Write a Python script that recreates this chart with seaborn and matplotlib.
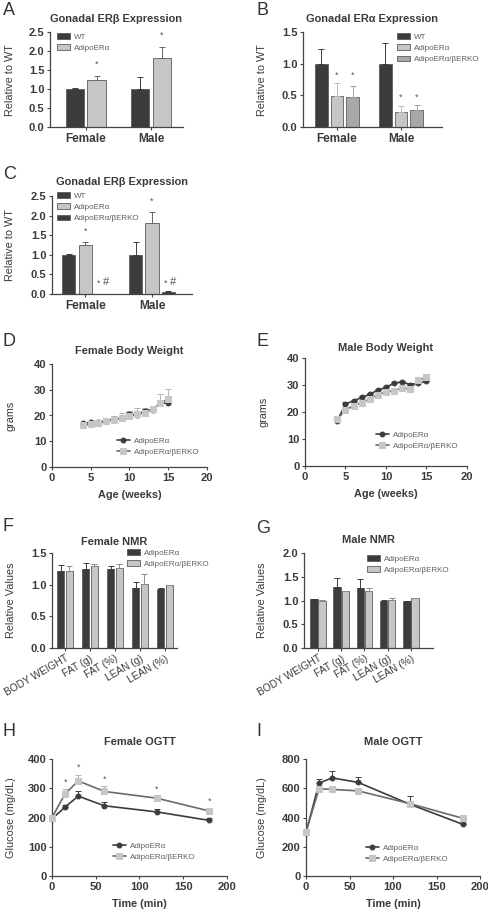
import numpy as np
import pandas as pd
import matplotlib.pyplot as plt
import seaborn as sns

W, H = 489, 913

# --- data ---
sexes = ["Female", "Male"]
groups = ["WT", "AdipoERα", "AdipoERα/βERKO"]
pair = ["AdipoERα", "AdipoERα/βERKO"]

# A / C: gonadal ER-beta
erb_wt = [1.0, 1.0]
erb_wt_err = [0.02, 0.32]
erb_adipo = [1.24, 1.82]
erb_adipo_err = [0.09, 0.28]
erb_ko = [0.01, 0.06]
erb_ko_err = [0.0, 0.02]

# B: gonadal ER-alpha
era_wt = [1.0, 1.0]
era_wt_err = [0.23, 0.32]
era_adipo = [0.49, 0.23]
era_adipo_err = [0.21, 0.10]
era_ko = [0.47, 0.27]
era_ko_err = [0.18, 0.08]

# D / E: body weight
weeks = [4, 5, 6, 7, 8, 9, 10, 11, 12, 13, 14, 15]
fbw_adipo = [16.9, 17.4, 17.5, 17.9, 18.4, 19.0, 20.4, 20.3, 21.7, 22.3, 24.7, 25.0]
fbw_adipo_err = [0.4, 0.4, 0.4, 0.5, 0.5, 0.6, 1.1, 0.7, 0.9, 0.6, 1.0, 0.8]
fbw_ko = [16.2, 16.6, 16.9, 17.8, 18.4, 19.1, 19.7, 20.5, 21.0, 22.6, 24.7, 26.6]
fbw_ko_err = [0.6, 0.6, 0.8, 1.4, 1.3, 2.0, 2.0, 2.5, 1.8, 1.2, 3.5, 3.6]
mbw_adipo = [16.8, 23.0, 24.1, 25.4, 26.6, 28.1, 29.1, 30.7, 31.1, 30.1, 30.7, 31.3]
mbw_adipo_err = [0.5, 0.8, 0.5, 0.5, 0.5, 0.5, 0.5, 0.5, 0.4, 0.5, 0.5, 0.6]
mbw_ko = [17.3, 20.8, 22.3, 23.5, 24.9, 26.4, 27.4, 27.9, 28.9, 28.5, 31.7, 32.8]
mbw_ko_err = [0.6, 0.5, 0.5, 0.5, 0.5, 0.5, 0.5, 0.5, 0.5, 0.5, 0.9, 0.8]

# F / G: NMR
nmr_cats = ["BODY WEIGHT", "FAT (g)", "FAT (%)", "LEAN (g)", "LEAN (%)"]
fnmr_adipo = [1.22, 1.25, 1.24, 0.95, 0.93]
fnmr_adipo_err = [0.09, 0.09, 0.06, 0.09, 0.02]
fnmr_ko = [1.22, 1.29, 1.26, 1.01, 0.99]
fnmr_ko_err = [0.07, 0.03, 0.06, 0.16, 0.01]
mnmr_adipo = [1.03, 1.28, 1.26, 1.00, 0.98]
mnmr_adipo_err = [0.01, 0.20, 0.19, 0.01, 0.02]
mnmr_ko = [0.99, 1.19, 1.19, 1.02, 1.05]
mnmr_ko_err = [0.03, 0.01, 0.07, 0.04, 0.0]

# H / I: OGTT
times = [0, 15, 30, 60, 120, 180]
fogtt_adipo = [195, 236, 273, 240, 219, 190]
fogtt_adipo_err = [6, 8, 16, 12, 10, 9]
fogtt_ko = [200, 281, 325, 289, 266, 222]
fogtt_ko_err = [5, 17, 22, 18, 8, 10]
mogtt_adipo = [296, 635, 671, 640, 489, 354]
mogtt_adipo_err = [8, 28, 46, 40, 58, 10]
mogtt_ko = [303, 596, 592, 582, 494, 395]
mogtt_ko_err = [10, 10, 18, 12, 10, 12]

DARK = "#3c3c3c"
LIGHT = "#c6c6c6"
MID = "#a8a8a8"
TXT = "#3a3a3a"

sns.set_style("ticks")
plt.rcParams["font.family"] = ["Liberation Sans", "DejaVu Sans"]

fig = plt.figure(figsize=(W / 100, H / 100), dpi=100)


def box(l, t, r, b):
    return fig.add_axes([l / W, 1 - b / H, (r - l) / W, (b - t) / H])


def style(ax, ylab_x, l, r, xsize=8):
    sns.despine(ax=ax)
    for s in ["left", "bottom"]:
        ax.spines[s].set_color("#444444")
        ax.spines[s].set_linewidth(0.9)
    ax.tick_params(length=2.5, width=0.8, colors="#444444", labelcolor=TXT,
                   labelsize=8, pad=1.5)
    ax.tick_params(axis="x", labelsize=xsize)
    for t in ax.get_xticklabels() + ax.get_yticklabels():
        t.set_fontweight("bold")
    ax.yaxis.label.set_size(7.8)
    ax.yaxis.label.set_color(TXT)
    ax.xaxis.label.set_size(7.8)
    ax.xaxis.label.set_color(TXT)
    ax.xaxis.label.set_fontweight("bold")
    ax.xaxis.labelpad = 5
    ax.yaxis.set_label_coords((ylab_x + 4 - l) / (r - l), 0.5)


def legend(ax, x, y, **kw):
    leg = ax.legend(loc="upper left", bbox_to_anchor=(x / W, 1 - y / H),
                    bbox_transform=fig.transFigure, frameon=False, fontsize=5.8,
                    borderpad=0, borderaxespad=0, labelspacing=0.45,
                    handletextpad=0.5, **kw)
    for t in leg.get_texts():
        t.set_color("#606060")
    return leg


def bars(ax, cats, names, vals, errs, colors, ecolors, width, gap):
    df = pd.DataFrame({
        "cat": [c for _ in names for c in cats],
        "grp": [n for n in names for _ in cats],
        "val": [v for vs in vals for v in vs],
    })
    sns.barplot(data=df, x="cat", y="val", hue="grp", order=cats, hue_order=names,
                palette=colors, width=width, gap=gap, edgecolor="#5c5c5c",
                linewidth=0.6, errorbar=None, saturation=1, ax=ax)
    centers = [[p.get_x() + p.get_width() / 2 for p in c] for c in ax.containers]
    for xs, v, e, ec in zip(centers, vals, errs, ecolors):
        ax.errorbar(xs, v, yerr=[np.zeros(len(e)), e], fmt="none", ecolor=ec,
                    elinewidth=0.7, capsize=2.3, capthick=0.7, zorder=1)
    ax.set_xlabel("")
    return centers


def lines(ax, x, names, vals, errs):
    specs = [
        dict(color=DARK, marker="o", markerfacecolor=DARK, markeredgecolor=DARK, ms=3.5),
        dict(color="#6a6a6a", marker="s", markerfacecolor=LIGHT, markeredgecolor=LIGHT, ms=4),
    ]
    ecs = [DARK, "#b4b4b4"]
    for n, v, e, sp, ec in zip(names, vals, errs, specs, ecs):
        sns.lineplot(x=x, y=v, ax=ax, label=n, linewidth=1.2, clip_on=False,
                     zorder=3, **sp)
        ax.errorbar(x, v, yerr=[np.zeros(len(e)), e], fmt="none", ecolor=ec,
                    elinewidth=0.7, capsize=2.3, capthick=0.7, zorder=2, clip_on=False)


def star(ax, x, y, s="*", size=6.5, ha="center"):
    ax.text(x, y, s, ha=ha, va="bottom", fontsize=size, color="#555555")


def title(ax, text, pad):
    ax.set_title(text, fontsize=7.9, fontweight="bold", color=TXT, pad=pad)


def letter(x, y, s):
    fig.text(x / W, 1 - y / H, s, fontsize=13, color="#333333", va="top", ha="left")


# ---------- A ----------
axA = box(50, 32, 183, 127)
cA = bars(axA, sexes, groups[:2], [erb_wt, erb_adipo], [erb_wt_err, erb_adipo_err],
          [DARK, LIGHT], [DARK, "#666666"], 0.66, 0.15)
for i in range(2):
    star(axA, cA[1][i], erb_adipo[i] + erb_adipo_err[i] + 0.2)
axA.set_ylim(0, 2.5)
axA.set_yticks([0, 0.5, 1.0, 1.5, 2.0, 2.5])
axA.set_xlim(-0.55, 1.49)
axA.set_ylabel("Relative to WT")
title(axA, "Gonadal ERβ Expression", 7)
legend(axA, 57, 33, handlelength=1.6)
style(axA, 11, 50, 183, xsize=8.5)

# ---------- B ----------
axB = box(303, 32, 442, 127)
cB = bars(axB, sexes, groups, [era_wt, era_adipo, era_ko],
          [era_wt_err, era_adipo_err, era_ko_err],
          [DARK, LIGHT, MID], [DARK, "#b8b8b8", "#a0a0a0"], 0.74, 0.19)
for i in range(2):
    top = max(era_adipo[i] + era_adipo_err[i], era_ko[i] + era_ko_err[i]) + 0.05
    star(axB, cB[1][i], top)
    star(axB, cB[2][i], top)
axB.set_ylim(0, 1.5)
axB.set_yticks([0, 0.5, 1.0, 1.5])
axB.set_xlim(-0.53, 1.64)
axB.set_ylabel("Relative to WT")
title(axB, "Gonadal ERα Expression", 7)
legend(axB, 397, 33, handlelength=1.6)
style(axB, 263, 303, 442, xsize=8.5)

# ---------- C ----------
axC = box(52, 196, 192, 294)
cC = bars(axC, sexes, groups, [erb_wt, erb_adipo, erb_ko],
          [erb_wt_err, erb_adipo_err, erb_ko_err],
          [DARK, LIGHT, DARK], [DARK, "#666666", DARK], 0.74, 0.2)
for i in range(2):
    star(axC, cC[1][i], erb_adipo[i] + erb_adipo_err[i] + 0.15)
    star(axC, cC[2][i] - 0.05, 0.15)
    star(axC, cC[2][i] + 0.02, 0.17, "#", size=8, ha="left")
axC.set_ylim(0, 2.5)
axC.set_yticks([0, 0.5, 1.0, 1.5, 2.0, 2.5])
axC.set_xlim(-0.5, 1.6)
axC.set_ylabel("Relative to WT")
title(axC, "Gonadal ERβ Expression", 8)
legend(axC, 57, 192, handlelength=1.6)
style(axC, 11, 52, 192, xsize=8.5)

# ---------- D ----------
axD = box(52, 364, 207, 467)
lines(axD, weeks, pair, [fbw_adipo, fbw_ko], [fbw_adipo_err, fbw_ko_err])
axD.set_xlim(0, 20)
axD.set_ylim(0, 40)
axD.set_xticks([0, 5, 10, 15, 20])
axD.set_yticks([0, 10, 20, 30, 40])
axD.set_xlabel("Age (weeks)")
axD.set_ylabel("grams")
title(axD, "Female Body Weight", 7)
legend(axD, 117, 437, handlelength=1.6)
style(axD, 12, 52, 207)

# ---------- E ----------
axE = box(305, 358, 467, 466)
lines(axE, weeks, pair, [mbw_adipo, mbw_ko], [mbw_adipo_err, mbw_ko_err])
axE.set_xlim(0, 20)
axE.set_ylim(0, 40)
axE.set_xticks([0, 5, 10, 15, 20])
axE.set_yticks([0, 10, 20, 30, 40])
axE.set_xlabel("Age (weeks)")
axE.set_ylabel("grams")
title(axE, "Male Body Weight", 5)
legend(axE, 376, 431, handlelength=1.6)
style(axE, 265, 305, 467)

# ---------- F ----------
axF = box(52, 553, 177, 648)
bars(axF, nmr_cats, pair, [fnmr_adipo, fnmr_ko], [fnmr_adipo_err, fnmr_ko_err],
     [DARK, LIGHT], [DARK, "#8a8a8a"], 0.67, 0.13)
axF.set_ylim(0, 1.5)
axF.set_yticks([0, 0.5, 1.0, 1.5])
axF.set_xlim(-0.52, 4.48)
axF.set_ylabel("Relative Values")
title(axF, "Female NMR", 6)
legend(axF, 127, 549, handlelength=1.6)
style(axF, 12, 52, 177)

# ---------- G ----------
axG = box(304, 553, 433, 648)
bars(axG, nmr_cats, pair, [mnmr_adipo, mnmr_ko], [mnmr_adipo_err, mnmr_ko_err],
     [DARK, LIGHT], [DARK, "#8a8a8a"], 0.7, 0.1)
axG.set_ylim(0, 2.0)
axG.set_yticks([0, 0.5, 1.0, 1.5, 2.0])
axG.set_xlim(-0.6, 4.95)
axG.set_ylabel("Relative Values")
title(axG, "Male NMR", 7)
legend(axG, 367, 555, handlelength=1.6)
style(axG, 263, 304, 433)

for ax in (axF, axG):
    for t in ax.get_xticklabels():
        t.set_rotation(30)
        t.set_ha("right")
        t.set_rotation_mode("anchor")
        t.set_fontweight("normal")
        t.set_fontsize(7.3)

# ---------- H ----------
axH = box(52, 759, 227, 876)
lines(axH, times, pair, [fogtt_adipo, fogtt_ko], [fogtt_adipo_err, fogtt_ko_err])
for i in range(1, len(times)):
    star(axH, times[i], fogtt_ko[i] + fogtt_ko_err[i] + 8)
axH.set_xlim(0, 200)
axH.set_ylim(0, 400)
axH.set_xticks([0, 50, 100, 150, 200])
axH.set_yticks([0, 100, 200, 300, 400])
axH.set_xlabel("Time (min)")
axH.set_ylabel("Glucose (mg/dL)")
title(axH, "Female OGTT", 10)
legend(axH, 113, 842, handlelength=1.6)
style(axH, 12, 52, 227)

# ---------- I ----------
axI = box(306, 759, 480, 876)
lines(axI, times, pair, [mogtt_adipo, mogtt_ko], [mogtt_adipo_err, mogtt_ko_err])
axI.set_xlim(0, 200)
axI.set_ylim(0, 800)
axI.set_xticks([0, 50, 100, 150, 200])
axI.set_yticks([0, 200, 400, 600, 800])
axI.set_xlabel("Time (min)")
axI.set_ylabel("Glucose (mg/dL)")
title(axI, "Male OGTT", 10)
legend(axI, 366, 844, handlelength=1.6)
style(axI, 263, 306, 480)

for x, y, s in [(3, 2, "A"), (256, 2, "B"), (3, 166, "C"), (3, 333, "D"),
                (256, 333, "E"), (3, 518, "F"), (256, 520, "G"), (3, 723, "H"),
                (256, 723, "I")]:
    letter(x, y, s)

fig.savefig("out.png", dpi=100)
